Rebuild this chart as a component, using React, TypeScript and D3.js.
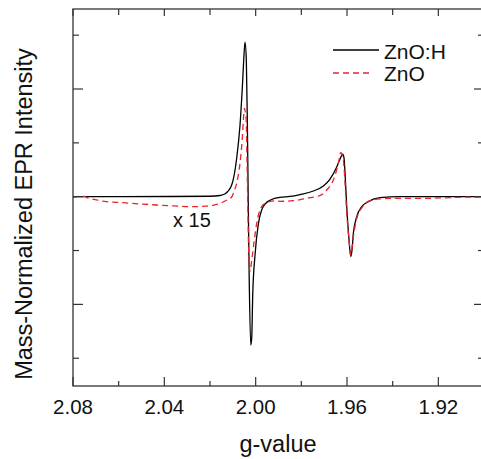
import React from 'react';
import * as d3 from 'd3';

// g-value, mass-normalized intensity
const znoH: [number, number][] = [
  [2.08, 0], [2.0594, 0], [2.0375, 0.002], [2.02, 0.004], [2.0156, 0.011],
  [2.0134, 0.027], [2.0105, 0.109], [2.0083, 0.359], [2.00685, 0.666],
  [2.00567, 1.083], [2.00523, 1.269], [2.00466, 1.436], [2.00409, 1.269],
  [2.00365, 0.712], [2.00326, -0.031], [2.00282, -0.773], [2.00216, -1.377],
  [2.00173, -1.312], [2.00129, -0.913], [2.00028, -0.541], [1.99884, -0.254],
  [1.99735, -0.123], [1.9959, -0.068], [1.99297, -0.026], [1.98933, -0.007],
  [1.98495, 0.002], [1.98057, 0.02], [1.97474, 0.053], [1.97036, 0.099],
  [1.96743, 0.164], [1.96449, 0.276], [1.96305, 0.35], [1.96187, 0.396],
  [1.9613, 0.359], [1.96086, 0.22], [1.96011, -0.093], [1.95911, -0.402],
  [1.95836, -0.557], [1.95779, -0.495], [1.95722, -0.34], [1.95573, -0.186],
  [1.95354, -0.093], [1.95065, -0.046], [1.94553, -0.009], [1.93677, 0],
  [1.9194, 0], [1.9, 0],
];

// ZnO spectrum, shown x 15
const zno: [number, number][] = [
  [2.08, -0.006], [2.07693, 0.004], [2.07518, 0.002], [2.07343, -0.012],
  [2.07036, -0.028], [2.06541, -0.046], [2.0581, -0.056], [2.05065, -0.068],
  [2.04351, -0.077], [2.0362, -0.086], [2.02875, -0.093], [2.02161, -0.088],
  [2.01706, -0.072], [2.01473, -0.054], [2.01255, -0.031], [2.01049, -0.003],
  [2.00926, 0.062], [2.0083, 0.127], [2.00685, 0.313], [2.00582, 0.554],
  [2.00523, 0.759], [2.00488, 0.821], [2.00453, 0.786], [2.00409, 0.684],
  [2.00378, 0.313], [2.00348, -0.031], [2.00313, -0.448], [2.00247, -0.696],
  [2.00173, -0.588], [2.00059, -0.402], [1.99954, -0.247], [1.99809, -0.123],
  [1.9959, -0.061], [1.99152, -0.038], [1.98933, -0.043], [1.9835, -0.037],
  [1.97763, -0.015], [1.97181, 0.011], [1.96887, 0.062], [1.96598, 0.155],
  [1.9648, 0.229], [1.96379, 0.31], [1.96274, 0.409], [1.9616, 0.341],
  [1.96086, 0.124], [1.96011, -0.151], [1.95911, -0.402], [1.95836, -0.541],
  [1.95722, -0.371], [1.95573, -0.201], [1.95284, -0.086], [1.94991, -0.037],
  [1.94553, -0.021], [1.93677, -0.015], [1.92494, -0.015], [1.91268, -0.007],
  [1.9, -0.001],
];

const xMajorTicks = [2.08, 2.04, 2.0, 1.96, 1.92];
const xMinorTicks = [2.06, 2.02, 1.98, 1.94];
const yMajorTicks = [-1, 0, 1];
const yMinorTicks = [-1.5, -0.5, 0.5, 1.5];

const seriesNames = ['ZnO:H', 'ZnO'];
const scaleNote = 'x 15';

const W = 481, H = 459;
const margin = { top: 9, left: 73, right: -3, bottom: 73 };
const FONT = '"Liberation Sans", Arial, sans-serif';

export default function App() {
  const x = d3.scaleLinear().domain([2.08, 1.9]).range([margin.left, W - margin.right]);
  const y = d3.scaleLinear().domain([-1.758, 1.743]).range([H - margin.bottom, margin.top]);

  const line = d3.line<[number, number]>()
    .x(d => x(d[0]))
    .y(d => y(d[1]))
    .curve(d3.curveMonotoneX);

  const x0 = x.range()[0], x1 = x.range()[1];
  const y0 = y.range()[0], y1 = y.range()[1];
  const axisColor = '#333';

  return (
    <svg width={W} height={H} style={{ position: 'absolute', left: 0, top: 0, background: '#fff' }}>
      <defs>
        <clipPath id="plot">
          <rect x={x0} y={y1} width={x1 - x0} height={y0 - y1} />
        </clipPath>
      </defs>

      <g clipPath="url(#plot)">
        <path d={line(znoH) || ''} fill="none" stroke="#000" strokeWidth={1.3} />
        <path d={line(zno) || ''} fill="none" stroke="#e8232a" strokeWidth={1.3} strokeDasharray="6,4" />
      </g>

      {/* frame */}
      <rect x={x0} y={y1} width={x1 - x0} height={y0 - y1} fill="none" stroke={axisColor} strokeWidth={1.3} />

      {/* x ticks, bottom and top, pointing inward */}
      {xMajorTicks.map(t => (
        <g key={'xM' + t}>
          <line x1={x(t)} x2={x(t)} y1={y0} y2={y0 - 9} stroke={axisColor} strokeWidth={1.2} />
          <line x1={x(t)} x2={x(t)} y1={y1} y2={y1 + 7} stroke={axisColor} strokeWidth={1.2} />
          <text x={x(t)} y={414} textAnchor="middle" fontFamily={FONT} fontSize={20.5} fill="#111">
            {t.toFixed(2)}
          </text>
        </g>
      ))}
      {xMinorTicks.map(t => (
        <g key={'xm' + t}>
          <line x1={x(t)} x2={x(t)} y1={y0} y2={y0 - 5} stroke={axisColor} strokeWidth={1.2} />
          <line x1={x(t)} x2={x(t)} y1={y1} y2={y1 + 6} stroke={axisColor} strokeWidth={1.2} />
        </g>
      ))}

      {/* y ticks, left and right */}
      {yMajorTicks.map(t => (
        <g key={'yM' + t}>
          <line x1={x0} x2={x0 + 10} y1={y(t)} y2={y(t)} stroke={axisColor} strokeWidth={1.2} />
          <line x1={x1} x2={x1 - 10} y1={y(t)} y2={y(t)} stroke={axisColor} strokeWidth={1.2} />
        </g>
      ))}
      {yMinorTicks.map(t => (
        <g key={'ym' + t}>
          <line x1={x0} x2={x0 + 6} y1={y(t)} y2={y(t)} stroke={axisColor} strokeWidth={1.2} />
          <line x1={x1} x2={x1 - 6} y1={y(t)} y2={y(t)} stroke={axisColor} strokeWidth={1.2} />
        </g>
      ))}

      {/* axis titles */}
      <text x={278} y={452} textAnchor="middle" fontFamily={FONT} fontSize={23.5} fill="#111">g-value</text>
      <text transform="translate(32,214) rotate(-90)" textAnchor="middle" fontFamily={FONT} fontSize={23.5} fill="#111">
        Mass-Normalized EPR Intensity
      </text>

      {/* annotation */}
      <text x={173} y={227} fontFamily={FONT} fontSize={20} fill="#111">{scaleNote}</text>

      {/* legend */}
      <line x1={333} x2={379} y1={50} y2={50} stroke="#000" strokeWidth={1.3} />
      <text x={384} y={58.5} fontFamily={FONT} fontSize={21} fill="#111">{seriesNames[0]}</text>
      <line x1={333} x2={373} y1={73} y2={73} stroke="#e8232a" strokeWidth={1.3} strokeDasharray="6,4" />
      <text x={384} y={81} fontFamily={FONT} fontSize={21} fill="#111">{seriesNames[1]}</text>
    </svg>
  );
}
